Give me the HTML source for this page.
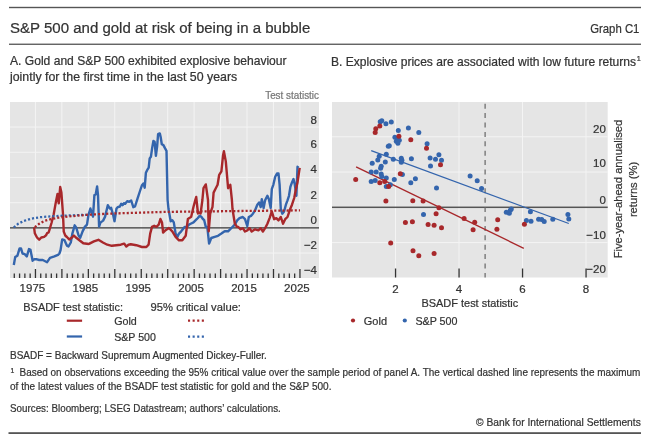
<!DOCTYPE html><html><head><meta charset="utf-8"><style>html,body{margin:0;padding:0;background:#fff;}svg{display:block;filter:blur(0.4px);}text{font-family:"Liberation Sans",sans-serif;stroke:currentColor;stroke-width:0.22px;}</style></head><body>
<svg width="650" height="448" viewBox="0 0 650 448">
<rect width="650" height="448" fill="#fff"/>
<rect x="9" y="6.8" width="632" height="1.4" fill="#555"/>
<rect x="9" y="43.6" width="632" height="1.3" fill="#555"/>
<rect x="8.5" y="432.2" width="632.5" height="1.8" fill="#555"/>
<text x="10" y="32.7" font-size="15.2" fill="#333333" color="#333333" textLength="300.3" lengthAdjust="spacingAndGlyphs">S&amp;P 500 and gold at risk of being in a bubble</text>
<text x="590.2" y="33" font-size="13.3" fill="#333333" color="#333333" textLength="49.2" lengthAdjust="spacingAndGlyphs">Graph C1</text>
<text x="10" y="65" font-size="11.9" fill="#333333" color="#333333" textLength="276.6" lengthAdjust="spacingAndGlyphs">A. Gold and S&amp;P 500 exhibited explosive behaviour</text>
<text x="10" y="81" font-size="11.9" fill="#333333" color="#333333" textLength="227.2" lengthAdjust="spacingAndGlyphs">jointly for the first time in the last 50 years</text>
<text x="331" y="65.5" font-size="11.9" fill="#333333" color="#333333" textLength="305" lengthAdjust="spacingAndGlyphs">B. Explosive prices are associated with low future returns</text>
<text x="636.8" y="60.8" font-size="7.2" fill="#333333" color="#333333">1</text>
<rect x="10" y="102" width="309" height="176" fill="#e5e5e5"/>
<rect x="34.9" y="102" width="1" height="176" fill="#f4f4f4"/>
<rect x="61.35" y="102" width="1" height="176" fill="#f4f4f4"/>
<rect x="87.8" y="102" width="1" height="176" fill="#f4f4f4"/>
<rect x="114.25" y="102" width="1" height="176" fill="#f4f4f4"/>
<rect x="140.7" y="102" width="1" height="176" fill="#f4f4f4"/>
<rect x="167.15" y="102" width="1" height="176" fill="#f4f4f4"/>
<rect x="193.6" y="102" width="1" height="176" fill="#f4f4f4"/>
<rect x="220.05" y="102" width="1" height="176" fill="#f4f4f4"/>
<rect x="246.5" y="102" width="1" height="176" fill="#f4f4f4"/>
<rect x="272.95" y="102" width="1" height="176" fill="#f4f4f4"/>
<rect x="299.4" y="102" width="1" height="176" fill="#f4f4f4"/>
<rect x="10" y="126.55" width="309" height="1" fill="#f4f4f4"/>
<rect x="10" y="151.75" width="309" height="1" fill="#f4f4f4"/>
<rect x="10" y="176.95" width="309" height="1" fill="#f4f4f4"/>
<rect x="10" y="202.15" width="309" height="1" fill="#f4f4f4"/>
<rect x="10" y="252.55" width="309" height="1" fill="#f4f4f4"/>
<rect x="10" y="227.1" width="309" height="1.5" fill="#555"/>
<rect x="13.64" y="273.5" width="1.3" height="4.5" fill="#333"/>
<rect x="18.93" y="273.5" width="1.3" height="4.5" fill="#333"/>
<rect x="24.22" y="273.5" width="1.3" height="4.5" fill="#333"/>
<rect x="29.51" y="273.5" width="1.3" height="4.5" fill="#333"/>
<rect x="34.8" y="269" width="1.3" height="9" fill="#333"/>
<rect x="40.09" y="273.5" width="1.3" height="4.5" fill="#333"/>
<rect x="45.38" y="273.5" width="1.3" height="4.5" fill="#333"/>
<rect x="50.67" y="273.5" width="1.3" height="4.5" fill="#333"/>
<rect x="55.96" y="273.5" width="1.3" height="4.5" fill="#333"/>
<rect x="61.25" y="269" width="1.3" height="9" fill="#333"/>
<rect x="66.54" y="273.5" width="1.3" height="4.5" fill="#333"/>
<rect x="71.83" y="273.5" width="1.3" height="4.5" fill="#333"/>
<rect x="77.12" y="273.5" width="1.3" height="4.5" fill="#333"/>
<rect x="82.41" y="273.5" width="1.3" height="4.5" fill="#333"/>
<rect x="87.7" y="269" width="1.3" height="9" fill="#333"/>
<rect x="92.99" y="273.5" width="1.3" height="4.5" fill="#333"/>
<rect x="98.28" y="273.5" width="1.3" height="4.5" fill="#333"/>
<rect x="103.57" y="273.5" width="1.3" height="4.5" fill="#333"/>
<rect x="108.86" y="273.5" width="1.3" height="4.5" fill="#333"/>
<rect x="114.15" y="269" width="1.3" height="9" fill="#333"/>
<rect x="119.44" y="273.5" width="1.3" height="4.5" fill="#333"/>
<rect x="124.73" y="273.5" width="1.3" height="4.5" fill="#333"/>
<rect x="130.02" y="273.5" width="1.3" height="4.5" fill="#333"/>
<rect x="135.31" y="273.5" width="1.3" height="4.5" fill="#333"/>
<rect x="140.6" y="269" width="1.3" height="9" fill="#333"/>
<rect x="145.89" y="273.5" width="1.3" height="4.5" fill="#333"/>
<rect x="151.18" y="273.5" width="1.3" height="4.5" fill="#333"/>
<rect x="156.47" y="273.5" width="1.3" height="4.5" fill="#333"/>
<rect x="161.76" y="273.5" width="1.3" height="4.5" fill="#333"/>
<rect x="167.05" y="269" width="1.3" height="9" fill="#333"/>
<rect x="172.34" y="273.5" width="1.3" height="4.5" fill="#333"/>
<rect x="177.63" y="273.5" width="1.3" height="4.5" fill="#333"/>
<rect x="182.92" y="273.5" width="1.3" height="4.5" fill="#333"/>
<rect x="188.21" y="273.5" width="1.3" height="4.5" fill="#333"/>
<rect x="193.5" y="269" width="1.3" height="9" fill="#333"/>
<rect x="198.79" y="273.5" width="1.3" height="4.5" fill="#333"/>
<rect x="204.08" y="273.5" width="1.3" height="4.5" fill="#333"/>
<rect x="209.37" y="273.5" width="1.3" height="4.5" fill="#333"/>
<rect x="214.66" y="273.5" width="1.3" height="4.5" fill="#333"/>
<rect x="219.95" y="269" width="1.3" height="9" fill="#333"/>
<rect x="225.24" y="273.5" width="1.3" height="4.5" fill="#333"/>
<rect x="230.53" y="273.5" width="1.3" height="4.5" fill="#333"/>
<rect x="235.82" y="273.5" width="1.3" height="4.5" fill="#333"/>
<rect x="241.11" y="273.5" width="1.3" height="4.5" fill="#333"/>
<rect x="246.4" y="269" width="1.3" height="9" fill="#333"/>
<rect x="251.69" y="273.5" width="1.3" height="4.5" fill="#333"/>
<rect x="256.98" y="273.5" width="1.3" height="4.5" fill="#333"/>
<rect x="262.27" y="273.5" width="1.3" height="4.5" fill="#333"/>
<rect x="267.56" y="273.5" width="1.3" height="4.5" fill="#333"/>
<rect x="272.85" y="269" width="1.3" height="9" fill="#333"/>
<rect x="278.14" y="273.5" width="1.3" height="4.5" fill="#333"/>
<rect x="283.43" y="273.5" width="1.3" height="4.5" fill="#333"/>
<rect x="288.72" y="273.5" width="1.3" height="4.5" fill="#333"/>
<rect x="294.01" y="273.5" width="1.3" height="4.5" fill="#333"/>
<rect x="299.3" y="269" width="1.3" height="9" fill="#333"/>
<text x="317" y="123.5" font-size="11.5" fill="#333333" color="#333333" text-anchor="end">8</text>
<text x="317" y="148" font-size="11.5" fill="#333333" color="#333333" text-anchor="end">6</text>
<text x="317" y="173.1" font-size="11.5" fill="#333333" color="#333333" text-anchor="end">4</text>
<text x="317" y="198.8" font-size="11.5" fill="#333333" color="#333333" text-anchor="end">2</text>
<text x="317" y="223.9" font-size="11.5" fill="#333333" color="#333333" text-anchor="end">0</text>
<text x="317" y="248.9" font-size="11.5" fill="#333333" color="#333333" text-anchor="end">&#8722;2</text>
<text x="317" y="273.7" font-size="11.5" fill="#333333" color="#333333" text-anchor="end">&#8722;4</text>
<text x="319" y="99" font-size="10" fill="#777" color="#777" text-anchor="end" textLength="53.8" lengthAdjust="spacingAndGlyphs">Test statistic</text>
<text x="32.4" y="292.4" font-size="11.5" fill="#333333" color="#333333" text-anchor="middle">1975</text>
<text x="85.3" y="292.4" font-size="11.5" fill="#333333" color="#333333" text-anchor="middle">1985</text>
<text x="138.2" y="292.4" font-size="11.5" fill="#333333" color="#333333" text-anchor="middle">1995</text>
<text x="191.1" y="292.4" font-size="11.5" fill="#333333" color="#333333" text-anchor="middle">2005</text>
<text x="244" y="292.4" font-size="11.5" fill="#333333" color="#333333" text-anchor="middle">2015</text>
<text x="296.9" y="292.4" font-size="11.5" fill="#333333" color="#333333" text-anchor="middle">2025</text>
<polyline points="13.8,265 15.2,257.1 17.4,255.7 19.6,248.4 21,248.4 22.5,253.5 24.7,254.2 26.8,256.4 29,249.1 30.5,249.9 32.6,260.7 34.1,259.3 37,259.3 39.2,260 42.8,260 47.1,262.2 50,257.8 54.4,256.4 58,254.9 59.4,253.5 60.6,250 62.2,239.4 64.5,240.2 66.9,245.6 68.5,246.5 70.8,242.5 72.3,233.9 74.7,225.3 76.25,227.7 78.6,235.5 80.2,237.8 82.5,231.6 84.8,226.9 87,224.6 88.4,215.2 90.4,208.5 91.7,212.5 93,216.6 94.4,195.1 95.7,194.4 97.1,186.4 98,195.1 99.1,226.6 100.4,222.6 103.1,220.6 105.1,216.6 107.8,205.2 109.8,208.5 111.1,207.8 113.2,215.2 114.5,221.2 116.5,208.5 117.8,207.2 119.9,206.5 121.2,203.8 122.5,205.2 123.9,203.2 125.2,203.8 127.2,201.1 129.2,201.8 131.2,200.5 133.3,207.2 135,206.5 137.5,198.6 140,191 142,185.2 143.4,183.5 144.7,187.7 145.9,172.7 147.6,169.3 148.7,167.6 149.7,158.4 150.9,156.8 152.1,148.4 153.4,140.9 154.6,141.7 155.9,155.9 157.1,146.7 158.1,134.2 159.8,133.4 160.6,136.7 161.8,144.2 163.4,145.1 165.1,148.4 166.5,150.9 167.6,200 168.5,209 170.7,221.3 172.3,220.2 173.8,222.4 175.6,233.6 177.4,236.9 179,233.6 181.2,231.3 184.6,226.9 186.8,226.9 189,224.6 191.2,223.5 193.5,222.4 195.7,220.2 197.9,218 199.7,215.7 201.3,216.8 202.9,219 204.2,220.2 205.8,226.9 207.3,226.9 209.1,243.6 211.3,238 214.7,236.9 218,235.8 221.4,233.6 224.7,231.3 228.1,231.3 231.4,228 234.8,224.6 237.2,220.4 239.5,218.1 242.8,217 245,219.2 247.3,226 248.8,217 251,215.9 252.9,213.7 255.1,210.3 257.3,204.7 259.1,202.5 260.7,207 261.8,199.2 263.6,208 265.1,200.3 267.4,195.8 268.9,199.2 270.7,208 271.8,189.1 273.4,184.6 275.2,176.8 277,173.5 278.5,173.5 279.6,184.6 280.8,209.2 282.3,213.7 284.1,211.4 285.9,204.7 287.5,200.3 289,195.8 290.4,186.9 292,182.4 293.5,179 294.8,184.6 296.4,195.8 297.5,166.8 298.6,167.9" fill="none" stroke="#3465ad" stroke-width="2.4" stroke-linejoin="round"/>
<polyline points="34.1,227.4 34.8,233.2 37,237.5 39.2,239.7 41.3,237.5 44.2,236.8 46,235.4 47.1,233.2 48.6,232.5 49.3,230.3 51.5,223 53.7,214.3 55.9,201.9 57.5,194 58.75,203.4 60.2,187 61.4,192.5 63,214.4 63.75,231.6 65.3,235.5 66.9,237 69.2,239.4 71.6,237.8 73.9,235.5 76.25,237.8 79.4,240.2 83.3,243.3 88.75,244 89.5,243.6 93.9,241.4 98.4,239.8 102.9,242.5 107.3,244.7 111.8,245.8 116.3,245.2 120.7,244.7 124.1,243.6 126.3,246.5 128.5,244.7 130.8,244.3 136.3,245.2 141.9,247 146.4,247 148.6,244.7 150.2,233.6 152,226.9 154.2,225.8 156.4,226.9 158.7,224.6 160.4,219 162,222.4 163.1,232.5 165.6,230.2 168.9,228 172.3,231.3 175.6,236.9 179,240.3 182.3,240.3 185.7,235.8 187.9,219 191.2,216.8 193.5,206.8 195.3,200 196.2,197 198,213.5 199.1,212.4 200.6,213.5 202.4,200 203.5,188.2 205.8,184.4 208,200 208.7,231.3 210.2,213.5 212.5,206.8 213.6,192.6 215.8,188.2 217.6,184.8 219.2,174.8 221.4,171.4 223,155.8 223.9,151.3 225.8,161.4 228.1,188.2 230.3,184.8 231.9,200 232.5,209 234.8,223.5 237,226.9 238.3,227 240.6,229.3 242.8,228.2 245,231.5 247.3,230.4 249.5,228.2 251.7,231.5 255.1,229.3 258.4,230.4 260.7,228.2 262.9,231.5 265.1,228.2 267.4,223.7 269.6,218.1 271.8,211.4 274.1,219.2 276.3,218.1 278.5,220.4 280.8,217 283,223.7 285.2,219.2 287.5,217 289.7,210.3 292,204.7 294.2,198 295.7,190.2 297.5,182.4 299.7,167.9" fill="none" stroke="#a8282b" stroke-width="2.4" stroke-linejoin="round"/>
<polyline points="13.8,227.4 18.1,223.8 23.9,220.9 31.2,218.7 39.9,217.2 51.5,216.3 67.4,215.5 87,214.8" fill="none" stroke="#3465ad" stroke-width="2.3" stroke-dasharray="2.1 2"/>
<polyline points="34.8,227.1 39.2,223.8 44.2,221 51.5,219 58.7,217.7 67.4,216.6 87,214.8 110,213.6 165,211.9 240,211 300,210.4" fill="none" stroke="#a8282b" stroke-width="2.3" stroke-dasharray="2.1 2"/>
<text x="23.3" y="310.6" font-size="11.4" fill="#333333" color="#333333" textLength="99.7" lengthAdjust="spacingAndGlyphs">BSADF test statistic:</text>
<text x="150.6" y="310.6" font-size="11.4" fill="#333333" color="#333333" textLength="90.4" lengthAdjust="spacingAndGlyphs">95% critical value:</text>
<rect x="66.8" y="319.6" width="15.3" height="2.2" fill="#a8282b"/>
<rect x="66.8" y="335.4" width="15.3" height="2.2" fill="#3465ad"/>
<text x="114.2" y="325.3" font-size="11.4" fill="#333333" color="#333333" textLength="22.6" lengthAdjust="spacingAndGlyphs">Gold</text>
<text x="114.2" y="341" font-size="11.4" fill="#333333" color="#333333" textLength="41.7" lengthAdjust="spacingAndGlyphs">S&amp;P 500</text>
<line x1="188" y1="320.6" x2="204" y2="320.6" stroke="#a8282b" stroke-width="2.1" stroke-dasharray="2.1 2.5"/>
<line x1="188" y1="336.6" x2="204" y2="336.6" stroke="#3465ad" stroke-width="2.1" stroke-dasharray="2.1 2.5"/>
<rect x="332" y="102" width="275.7" height="175.5" fill="#e5e5e5"/>
<rect x="395" y="102" width="1" height="175.5" fill="#f4f4f4"/>
<rect x="458.5" y="102" width="1" height="175.5" fill="#f4f4f4"/>
<rect x="522" y="102" width="1" height="175.5" fill="#f4f4f4"/>
<rect x="585.5" y="102" width="1" height="175.5" fill="#f4f4f4"/>
<rect x="332" y="136.26" width="275.7" height="1" fill="#f4f4f4"/>
<rect x="332" y="171.53" width="275.7" height="1" fill="#f4f4f4"/>
<rect x="332" y="242.07" width="275.7" height="1" fill="#f4f4f4"/>
<rect x="332" y="206.55" width="275.7" height="1.5" fill="#555"/>
<rect x="394.9" y="268.5" width="1.3" height="9" fill="#333"/>
<rect x="458.4" y="268.5" width="1.3" height="9" fill="#333"/>
<rect x="521.9" y="268.5" width="1.3" height="9" fill="#333"/>
<rect x="585.4" y="268.5" width="1.3" height="9" fill="#333"/>
<text x="605.8" y="133.1" font-size="11.5" fill="#333333" color="#333333" text-anchor="end">20</text>
<text x="605.8" y="167.2" font-size="11.5" fill="#333333" color="#333333" text-anchor="end">10</text>
<text x="605.8" y="203.8" font-size="11.5" fill="#333333" color="#333333" text-anchor="end">0</text>
<text x="605.8" y="239" font-size="11.5" fill="#333333" color="#333333" text-anchor="end">&#8722;10</text>
<text x="605.8" y="273.3" font-size="11.5" fill="#333333" color="#333333" text-anchor="end">&#8722;20</text>
<text x="395.5" y="292.6" font-size="11.5" fill="#333333" color="#333333" text-anchor="middle">2</text>
<text x="459" y="292.6" font-size="11.5" fill="#333333" color="#333333" text-anchor="middle">4</text>
<text x="522.5" y="292.6" font-size="11.5" fill="#333333" color="#333333" text-anchor="middle">6</text>
<text x="586" y="292.6" font-size="11.5" fill="#333333" color="#333333" text-anchor="middle">8</text>
<text x="421.4" y="307.3" font-size="11.4" fill="#333333" color="#333333" textLength="96.9" lengthAdjust="spacingAndGlyphs">BSADF test statistic</text>
<line x1="485.1" y1="103.7" x2="485.1" y2="277.5" stroke="#666" stroke-width="1.2" stroke-dasharray="5 4.4"/>
<line x1="371.2" y1="150.7" x2="568.8" y2="223.5" stroke="#3465ad" stroke-width="1.3"/>
<line x1="356.1" y1="166.9" x2="523.8" y2="248.3" stroke="#a8282b" stroke-width="1.3"/>
<circle cx="380.2" cy="121.7" r="2.5" fill="#3465ad"/>
<circle cx="381.8" cy="120.7" r="2.5" fill="#3465ad"/>
<circle cx="385.9" cy="123.7" r="2.5" fill="#3465ad"/>
<circle cx="391.3" cy="122.1" r="2.5" fill="#3465ad"/>
<circle cx="398.3" cy="130.6" r="2.5" fill="#3465ad"/>
<circle cx="408.4" cy="128.1" r="2.5" fill="#3465ad"/>
<circle cx="418.8" cy="132.6" r="2.5" fill="#3465ad"/>
<circle cx="394.9" cy="137.2" r="2.5" fill="#3465ad"/>
<circle cx="397.3" cy="139.2" r="2.5" fill="#3465ad"/>
<circle cx="399.3" cy="140.2" r="2.5" fill="#3465ad"/>
<circle cx="396.3" cy="141.2" r="2.5" fill="#3465ad"/>
<circle cx="397.9" cy="143.2" r="2.5" fill="#3465ad"/>
<circle cx="388.3" cy="146.2" r="2.5" fill="#3465ad"/>
<circle cx="389.3" cy="145.8" r="2.5" fill="#3465ad"/>
<circle cx="427.1" cy="143.8" r="2.5" fill="#3465ad"/>
<circle cx="386.3" cy="154.3" r="2.5" fill="#3465ad"/>
<circle cx="379.2" cy="156.3" r="2.5" fill="#3465ad"/>
<circle cx="377.8" cy="159.9" r="2.5" fill="#3465ad"/>
<circle cx="393.3" cy="159.3" r="2.5" fill="#3465ad"/>
<circle cx="385.3" cy="161.9" r="2.5" fill="#3465ad"/>
<circle cx="372.2" cy="163.3" r="2.5" fill="#3465ad"/>
<circle cx="401.3" cy="158.3" r="2.5" fill="#3465ad"/>
<circle cx="401.9" cy="160.3" r="2.5" fill="#3465ad"/>
<circle cx="401.3" cy="162.3" r="2.5" fill="#3465ad"/>
<circle cx="411.4" cy="158.7" r="2.5" fill="#3465ad"/>
<circle cx="430.1" cy="157.9" r="2.5" fill="#3465ad"/>
<circle cx="435.5" cy="159.3" r="2.5" fill="#3465ad"/>
<circle cx="438.9" cy="154.7" r="2.5" fill="#3465ad"/>
<circle cx="441.5" cy="160.3" r="2.5" fill="#3465ad"/>
<circle cx="430.5" cy="165.9" r="2.5" fill="#3465ad"/>
<circle cx="381.2" cy="166.3" r="2.5" fill="#3465ad"/>
<circle cx="380.6" cy="168.3" r="2.5" fill="#3465ad"/>
<circle cx="371.2" cy="172" r="2.5" fill="#3465ad"/>
<circle cx="376.2" cy="172" r="2.5" fill="#3465ad"/>
<circle cx="381.2" cy="174" r="2.5" fill="#3465ad"/>
<circle cx="381.8" cy="176.4" r="2.5" fill="#3465ad"/>
<circle cx="386.3" cy="178" r="2.5" fill="#3465ad"/>
<circle cx="394.3" cy="179.4" r="2.5" fill="#3465ad"/>
<circle cx="402.4" cy="174.4" r="2.5" fill="#3465ad"/>
<circle cx="415.4" cy="178.8" r="2.5" fill="#3465ad"/>
<circle cx="410.8" cy="182.8" r="2.5" fill="#3465ad"/>
<circle cx="371.2" cy="181.4" r="2.5" fill="#3465ad"/>
<circle cx="375.2" cy="180.4" r="2.5" fill="#3465ad"/>
<circle cx="386.3" cy="186.4" r="2.5" fill="#3465ad"/>
<circle cx="390.3" cy="184.8" r="2.5" fill="#3465ad"/>
<circle cx="436.5" cy="188" r="2.5" fill="#3465ad"/>
<circle cx="423.5" cy="214.6" r="2.5" fill="#3465ad"/>
<circle cx="470.1" cy="176" r="2.5" fill="#3465ad"/>
<circle cx="477.2" cy="180.8" r="2.5" fill="#3465ad"/>
<circle cx="481.6" cy="188.4" r="2.5" fill="#3465ad"/>
<circle cx="506.3" cy="212.2" r="2.5" fill="#3465ad"/>
<circle cx="509.3" cy="213.2" r="2.5" fill="#3465ad"/>
<circle cx="510.3" cy="210.2" r="2.5" fill="#3465ad"/>
<circle cx="511.3" cy="209.1" r="2.5" fill="#3465ad"/>
<circle cx="530.4" cy="211.8" r="2.5" fill="#3465ad"/>
<circle cx="526.4" cy="220.6" r="2.5" fill="#3465ad"/>
<circle cx="531" cy="221.2" r="2.5" fill="#3465ad"/>
<circle cx="538.6" cy="219.3" r="2.5" fill="#3465ad"/>
<circle cx="541.7" cy="219.5" r="2.5" fill="#3465ad"/>
<circle cx="544.2" cy="221.4" r="2.5" fill="#3465ad"/>
<circle cx="552.8" cy="219.3" r="2.5" fill="#3465ad"/>
<circle cx="567.9" cy="214.6" r="2.5" fill="#3465ad"/>
<circle cx="568.8" cy="218.9" r="2.5" fill="#3465ad"/>
<circle cx="379.8" cy="126.1" r="2.5" fill="#a8282b"/>
<circle cx="375.8" cy="128.7" r="2.5" fill="#a8282b"/>
<circle cx="375.2" cy="132.6" r="2.5" fill="#a8282b"/>
<circle cx="398.9" cy="136.2" r="2.5" fill="#a8282b"/>
<circle cx="410.8" cy="139.8" r="2.5" fill="#a8282b"/>
<circle cx="426.5" cy="148.2" r="2.5" fill="#a8282b"/>
<circle cx="440.5" cy="164.7" r="2.5" fill="#a8282b"/>
<circle cx="400.3" cy="173.8" r="2.5" fill="#a8282b"/>
<circle cx="355.7" cy="179.4" r="2.5" fill="#a8282b"/>
<circle cx="379.8" cy="182.8" r="2.5" fill="#a8282b"/>
<circle cx="384.7" cy="181.4" r="2.5" fill="#a8282b"/>
<circle cx="388.7" cy="186.4" r="2.5" fill="#a8282b"/>
<circle cx="385.9" cy="201.1" r="2.5" fill="#a8282b"/>
<circle cx="412.8" cy="200.7" r="2.5" fill="#a8282b"/>
<circle cx="423.1" cy="201.1" r="2.5" fill="#a8282b"/>
<circle cx="438.9" cy="207.7" r="2.5" fill="#a8282b"/>
<circle cx="436.1" cy="213.8" r="2.5" fill="#a8282b"/>
<circle cx="405.4" cy="222.6" r="2.5" fill="#a8282b"/>
<circle cx="412.4" cy="221.8" r="2.5" fill="#a8282b"/>
<circle cx="428.1" cy="224.6" r="2.5" fill="#a8282b"/>
<circle cx="434.1" cy="225.2" r="2.5" fill="#a8282b"/>
<circle cx="441.5" cy="227.8" r="2.5" fill="#a8282b"/>
<circle cx="390.7" cy="242.9" r="2.5" fill="#a8282b"/>
<circle cx="413" cy="250.8" r="2.5" fill="#a8282b"/>
<circle cx="418.8" cy="255.8" r="2.5" fill="#a8282b"/>
<circle cx="434.1" cy="253.4" r="2.5" fill="#a8282b"/>
<circle cx="464.1" cy="218.6" r="2.5" fill="#a8282b"/>
<circle cx="474.7" cy="222.2" r="2.5" fill="#a8282b"/>
<circle cx="473.1" cy="229.8" r="2.5" fill="#a8282b"/>
<circle cx="497.7" cy="219.8" r="2.5" fill="#a8282b"/>
<circle cx="496.9" cy="229.2" r="2.5" fill="#a8282b"/>
<circle cx="524.4" cy="224.2" r="2.5" fill="#a8282b"/>
<circle cx="353" cy="320.5" r="2.1" fill="#a8282b"/>
<text x="363.8" y="325" font-size="11.4" fill="#333333" color="#333333" textLength="23.2" lengthAdjust="spacingAndGlyphs">Gold</text>
<circle cx="404.8" cy="320.5" r="2.1" fill="#3465ad"/>
<text x="415.4" y="325" font-size="11.4" fill="#333333" color="#333333" textLength="42.1" lengthAdjust="spacingAndGlyphs">S&amp;P 500</text>
<g transform="translate(621.8,258.3) rotate(-90)">
<text x="0" y="0" font-size="11.8" fill="#333333" color="#333333" textLength="138.5" lengthAdjust="spacingAndGlyphs">Five-year-ahead annualised</text>
</g>
<g transform="translate(637.3,217.1) rotate(-90)">
<text x="0" y="0" font-size="11.8" fill="#333333" color="#333333" textLength="55.3" lengthAdjust="spacingAndGlyphs">returns (%)</text>
</g>
<text x="10" y="358.6" font-size="11.2" fill="#333333" color="#333333" textLength="256.9" lengthAdjust="spacingAndGlyphs">BSADF = Backward Supremum Augmented Dickey-Fuller.</text>
<text x="10.4" y="372.6" font-size="6.8" fill="#333333" color="#333333">1</text>
<text x="19.5" y="376.2" font-size="11.2" fill="#333333" color="#333333" textLength="620.9" lengthAdjust="spacingAndGlyphs">Based on observations exceeding the 95% critical value over the sample period of panel A. The vertical dashed line represents the maximum</text>
<text x="10" y="389.7" font-size="11.2" fill="#333333" color="#333333" textLength="321.5" lengthAdjust="spacingAndGlyphs">of the latest values of the BSADF test statistic for gold and the S&amp;P 500.</text>
<text x="10" y="412" font-size="11.2" fill="#333333" color="#333333" textLength="270.8" lengthAdjust="spacingAndGlyphs">Sources: Bloomberg; LSEG Datastream; authors&#8217; calculations.</text>
<text x="476" y="425.6" font-size="11.2" fill="#333333" color="#333333" textLength="164.8" lengthAdjust="spacingAndGlyphs">&#169; Bank for International Settlements</text>
</svg></body></html>
